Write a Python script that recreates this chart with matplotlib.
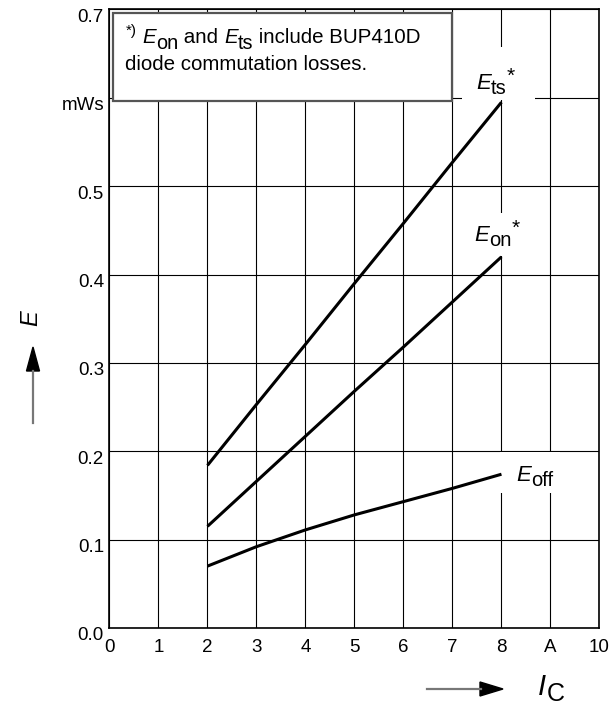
import matplotlib.pyplot as plt
from matplotlib.patches import Rectangle, Polygon
from matplotlib.lines import Line2D
from matplotlib.transforms import ScaledTranslation

plt.rcParams['font.family'] = ['Liberation Sans', 'DejaVu Sans']

# curve data (I_C in A, E in mWs)
ic = [2, 3, 4, 5, 6, 7, 8]
e_ts = [0.184, 0.253, 0.321, 0.390, 0.458, 0.527, 0.595]
e_on = [0.115, 0.166, 0.217, 0.268, 0.318, 0.369, 0.420]
e_off = [0.070, 0.092, 0.111, 0.128, 0.143, 0.158, 0.174]

xticks = [0, 1, 2, 3, 4, 5, 6, 7, 8, 9, 10]
xlabels = ['0', '1', '2', '3', '4', '5', '6', '7', '8', 'A', '10']
yticks = [0.0, 0.1, 0.2, 0.3, 0.4, 0.5, 0.6, 0.7]
ylabels = ['0.0', '0.1', '0.2', '0.3', '0.4', '0.5', 'mWs', '0.7']

fig = plt.figure(figsize=(6.13, 7.04), dpi=100)
ax = fig.add_axes([0.1786, 0.108, 0.7993, 0.8786])
ax.set_xlim(0, 10)
ax.set_ylim(0, 0.7)
ax.set_xticks(xticks)
ax.set_xticklabels(xlabels, fontsize=13.5)
ax.set_yticks(yticks)
ax.set_yticklabels(ylabels, fontsize=13.5)
ax.tick_params(axis='x', length=0, pad=8)
ax.tick_params(axis='y', length=0, pad=4)
shift = ScaledTranslation(0, -0.06, fig.dpi_scale_trans)
for lab in ax.get_yticklabels():
    lab.set_transform(lab.get_transform() + shift)
ax.grid(True, color='black', lw=0.8)
for s in ax.spines.values():
    s.set_linewidth(1.2)

for y in (e_ts, e_on, e_off):
    ax.plot(ic, y, color='black', lw=2.2, solid_capstyle='butt', zorder=5)


def rich(x, y, pieces, coords='data'):
    # chain text pieces left to right: (text, dy in points, size, italic)
    prev = None
    for txt, dy, size, it in pieces:
        xc = coords if prev is None else (prev, coords)
        xx = x if prev is None else 1
        prev = ax.annotate(txt, xy=(xx, y), xycoords=xc, xytext=(0, dy),
                           textcoords='offset points', fontsize=size,
                           fontstyle='italic' if it else 'normal',
                           ha='left', va='baseline', zorder=6,
                           annotation_clip=False)


# white masks behind curve labels
for x0, y0, w, h in [(7.19, 0.598, 1.49, 0.06), (7.31, 0.421, 1.11, 0.049),
                     (7.97, 0.153, 1.22, 0.046)]:
    ax.add_patch(Rectangle((x0, y0), w, h, facecolor='white', edgecolor='none', zorder=3))

rich(7.48, 0.610, [('E', 0, 16, True), ('ts', -3.5, 14.5, False), ('*', 5, 15, False)])
rich(7.44, 0.438, [('E', 0, 16, True), ('on', -3.5, 14.5, False), ('*', 5, 15, False)])
rich(8.30, 0.166, [('E', 0, 16, True), ('off', -3.5, 14.5, False)])

# footnote box
ax.add_patch(Rectangle((0.07, 0.596), 6.92, 0.100, facecolor='white',
                       edgecolor='#555555', lw=1.6, zorder=4))
rich(0.33, 0.662, [('*)', 6, 11, False), (' ', 0, 14.8, False), ('E', 0, 14.8, True),
                   ('on', -4, 14.3, False), (' and ', 0, 14.8, False), ('E', 0, 14.8, True),
                   ('ts', -4, 14.3, False), (' include BUP410D', 0, 14.8, False)])
rich(0.31, 0.632, [('diode commutation losses.', 0, 14.8, False)])

# axis titles with arrows
fig.text(0.05, 0.548, 'E', fontsize=17, fontstyle='italic', rotation=90,
         ha='center', va='center')
fig.add_artist(Line2D([33 / 613, 33 / 613], [1 - 423 / 704, 1 - 371 / 704],
                      transform=fig.transFigure, color='#777777', lw=1.6))
fig.add_artist(Polygon([[26.5 / 613, 1 - 371 / 704], [39.5 / 613, 1 - 371 / 704],
                        [33 / 613, 1 - 347 / 704]], closed=True,
                       transform=fig.transFigure, color='black'))

rich(0.878, 0.0128, [('I', 0, 21, True), ('C', -4, 18, False)], coords='figure fraction')
fig.add_artist(Line2D([427 / 613, 481 / 613], [1 - 689 / 704, 1 - 689 / 704],
                      transform=fig.transFigure, color='#777777', lw=1.6))
fig.add_artist(Polygon([[480 / 613, 1 - 682 / 704], [480 / 613, 1 - 696 / 704],
                        [503 / 613, 1 - 689 / 704]], closed=True,
                       transform=fig.transFigure, color='black'))

fig.savefig('out.png', dpi=100)
